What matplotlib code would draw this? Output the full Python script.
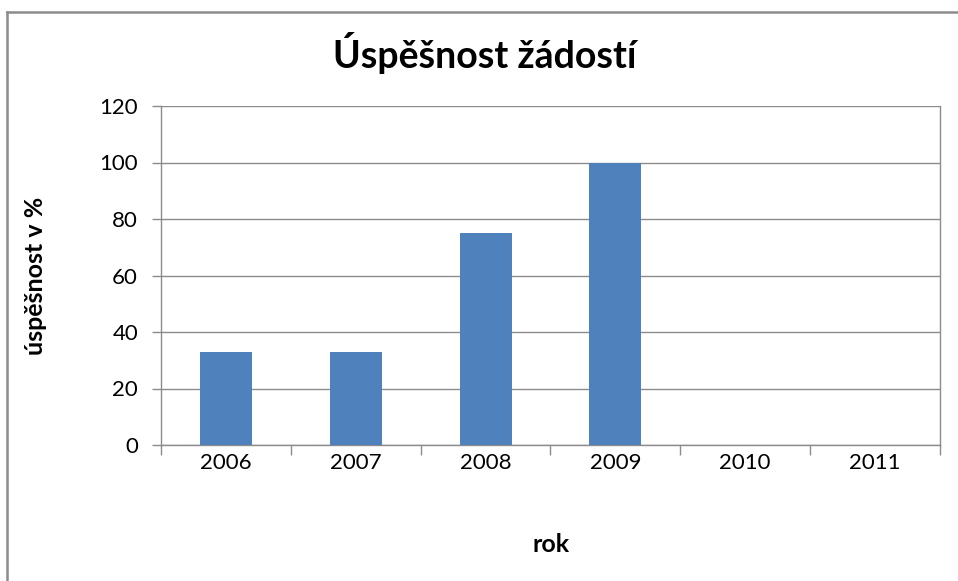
import matplotlib
matplotlib.use("Agg")
import matplotlib.pyplot as plt
from matplotlib.lines import Line2D
import numpy as np

years = ["2006", "2007", "2008", "2009", "2010", "2011"]
success = [33, 33, 75, 100, 0, 0]
yticks = [0, 20, 40, 60, 80, 100, 120]

plt.rcParams['font.family'] = ['Lato', 'DejaVu Sans']

W, H = 958, 581
fig = plt.figure(figsize=(W/100, H/100), dpi=100)
fig.patch.set_facecolor('white')

# outer chart border
fig.add_artist(Line2D([7/W, 7/W], [0, 1 - 12/H], color='#8c8c8c', lw=1.8, transform=fig.transFigure))
fig.add_artist(Line2D([7/W, 1], [1 - 12/H, 1 - 12/H], color='#8c8c8c', lw=1.8, transform=fig.transFigure))

ax = fig.add_axes([161/W, 1 - 445/H, (940 - 161)/W, (445 - 106)/H])
x = np.arange(len(years))
ax.bar(x, success, width=0.4, color='#4f81bd', zorder=3)
ax.set_xlim(-0.5, len(years) - 0.5)
ax.set_ylim(0, 120)
ax.set_yticks(yticks)
ax.set_yticklabels([str(v) for v in yticks], fontsize=16)
ax.set_xticks(x)
ax.set_xticklabels(years, fontsize=16)
ax.tick_params(axis='x', length=0, pad=6)
ax.tick_params(axis='y', length=6.5, width=1, color='#8c8c8c', pad=10)
ax.set_xticks(np.arange(-0.5, len(years), 1), minor=True)
ax.tick_params(axis='x', which='minor', length=7, width=1, color='#8c8c8c')
ax.grid(axis='y', color='#8c8c8c', lw=1, zorder=0)
for s in ['left', 'bottom', 'right']:
    ax.spines[s].set_color('#8c8c8c')
    ax.spines[s].set_linewidth(1)
ax.spines['top'].set_visible(False)

fig.text(485/W, 1 - 68/H, "Úspěšnost žádostí", fontsize=27, fontweight='bold',
         ha='center', va='baseline')
fig.text(551/W, 1 - 545/H, "rok", fontsize=18, fontweight='bold', ha='center', va='center')
fig.text(36/W, 1 - 276/H, "úspěšnost v %", fontsize=18, fontweight='bold',
         ha='center', va='center', rotation=90)

fig.savefig("out.png", dpi=100)
